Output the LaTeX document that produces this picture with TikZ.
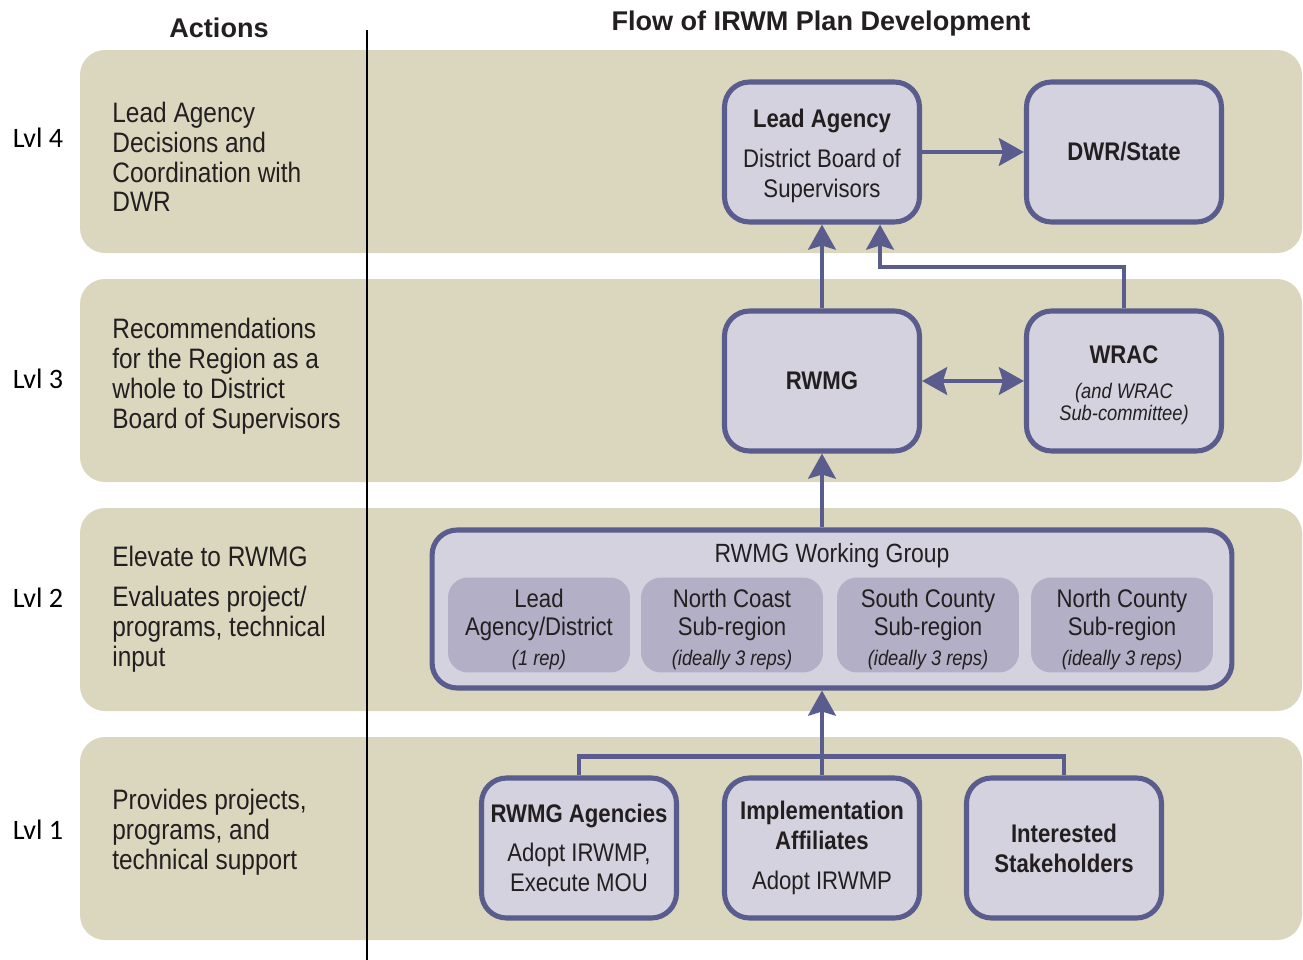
\documentclass[tikz,border=0pt]{standalone}
\usepackage{fontspec}
\setmainfont{Liberation Sans}[FakeStretch=0.87]
\newfontfamily\headfont{Liberation Sans}
\newfontfamily\lvlfont{Carlito}
\usetikzlibrary{arrows.meta}

\definecolor{bandbeige}{HTML}{DBD7BF}
\definecolor{boxlilac}{HTML}{D4D2DF}
\definecolor{sublilac}{HTML}{B3AFC6}
\definecolor{flowblue}{HTML}{595C8C}
\definecolor{inkgray}{HTML}{231F20}

\tikzset{
  band/.style={fill=bandbeige, rounded corners=0.5cm},
  flowbox/.style={draw=flowblue, line width=2.9pt, fill=boxlilac, rounded corners=0.5cm,
    minimum width=3.9cm, minimum height=2.8cm, align=center, inner sep=0pt,
    text=inkgray, font=\fontsize{14.5}{17}\selectfont},
  subbox/.style={fill=sublilac, rounded corners=0.4cm, minimum width=3.64cm,
    minimum height=1.9cm, align=center, inner sep=0pt, text=inkgray,
    font=\fontsize{14.5}{16}\selectfont},
  sidetext/.style={anchor=west, align=left, inner sep=0pt, text=inkgray,
    font=\fontsize{16}{17}\selectfont},
  lvl/.style={inner sep=0pt, font=\lvlfont\fontsize{16}{17}\selectfont},
  header/.style={inner sep=0pt, text=inkgray, font=\headfont\bfseries\fontsize{15.4}{17}\selectfont},
  flowline/.style={draw=flowblue, line width=2.6pt},
  flowarrow/.style={flowline, -{Stealth[length=0.5cm,width=0.55cm,inset=0.08cm]}},
  flowboth/.style={flowline, {Stealth[length=0.5cm,width=0.55cm,inset=0.08cm]}-{Stealth[length=0.5cm,width=0.55cm,inset=0.08cm]}},
}
\newcommand{\repnote}[1]{{\fontsize{12}{12.5}\selectfont\itshape #1}}
\newcommand{\toppad}{\rule{0pt}{15.2pt}}

\begin{document}
\begin{tikzpicture}[x=0.02cm,y=-0.02cm]
  \useasboundingbox (0,0) rectangle (1303,960);

  % Bandas de nivel
  \fill[band] (80,50) rectangle (1302,253);
  \fill[band] (80,279) rectangle (1302,482);
  \fill[band] (80,508) rectangle (1302,711);
  \fill[band] (80,737) rectangle (1302,940);

  % Separador
  \draw[line width=1.1pt] (367,30) -- (367,960);

  % Titulos
  \node[header] (actions) at (219,28) {Actions};
  \node[header] (flowtitle) at (821,24) {Flow of IRWM Plan Development};

  % Niveles
  \node[lvl] (lvl4) at (38,138) {Lvl 4};
  \node[lvl] (lvl3) at (38,379) {Lvl 3};
  \node[lvl] (lvl2) at (38,598) {Lvl 2};
  \node[lvl] (lvl1) at (38,830) {Lvl 1};

  % Acciones
  \node[sidetext] (act4) at (112,157) {Lead Agency\\ Decisions and\\ Coordination with\\ DWR};
  \node[sidetext] (act3) at (112,376) {Recommendations\\ for the Region as a\\ whole to District\\ Board of Supervisors};
  \node[sidetext] (act2) at (112,609) {Elevate to RWMG\\[6pt] Evaluates project/\\ programs, technical\\ input};
  \node[sidetext] (act1) at (112,832) {Provides projects,\\ programs, and\\ technical support};

  % Nivel 4
  \node[flowbox] (lead) at (822,152) {\toppad\textbf{Lead Agency}\\[6pt] District Board of\\ Supervisors};
  \node[flowbox] (dwr) at (1124,152) {\textbf{DWR/State}};

  % Nivel 3
  \node[flowbox] (rwmg) at (822,381) {\textbf{RWMG}};
  \node[flowbox] (wrac) at (1124,381) {\toppad\textbf{WRAC}\\[3pt] \repnote{(and WRAC}\\[-4.5pt] \repnote{Sub-committee)}};

  % Nivel 2
  \node[flowbox, minimum width=16cm, minimum height=3.16cm] (wg) at (832,609) {};
  \node[inner sep=0pt, text=inkgray, font=\fontsize{15}{17}\selectfont] (wgtitle) at (832,556) {RWMG Working Group};
  \node[subbox] (leadrep) at (539,625) {\toppad Lead\\ Agency/District\\[1pt] \repnote{(1 rep)}};
  \node[subbox] (ncoast) at (732,625) {\toppad North Coast\\ Sub-region\\[1pt] \repnote{(ideally 3 reps)}};
  \node[subbox] (scounty) at (928,625) {\toppad South County\\ Sub-region\\[1pt] \repnote{(ideally 3 reps)}};
  \node[subbox] (ncounty) at (1122,625) {\toppad North County\\ Sub-region\\[1pt] \repnote{(ideally 3 reps)}};

  % Nivel 1
  \node[flowbox] (agencies) at (579,848) {\textbf{RWMG Agencies}\\[5pt] Adopt IRWMP,\\ Execute MOU};
  \node[flowbox] (impl) at (822,848) {\textbf{Implementation}\\ \textbf{Affiliates}\\[6pt] Adopt IRWMP};
  \node[flowbox] (stake) at (1064,848) {\textbf{Interested}\\ \textbf{Stakeholders}};

  % Flechas
  \draw[flowarrow] (lead.east) -- (dwr.west);
  \draw[flowarrow] (rwmg.north) -- (lead.south);
  \coordinate (wracbend) at (880,267);
  \draw[flowarrow] (wrac.north) |- (wracbend) -- (wracbend |- lead.south);
  \draw[flowboth] (rwmg.east) -- (wrac.west);
  \draw[flowarrow] (rwmg.south |- wg.north) -- (rwmg.south);
  \draw[flowline] (agencies.north) -- ++(0,-19) -| (stake.north);
  \draw[flowarrow] (impl.north) -- (impl.north |- wg.south);
\end{tikzpicture}
\end{document}
